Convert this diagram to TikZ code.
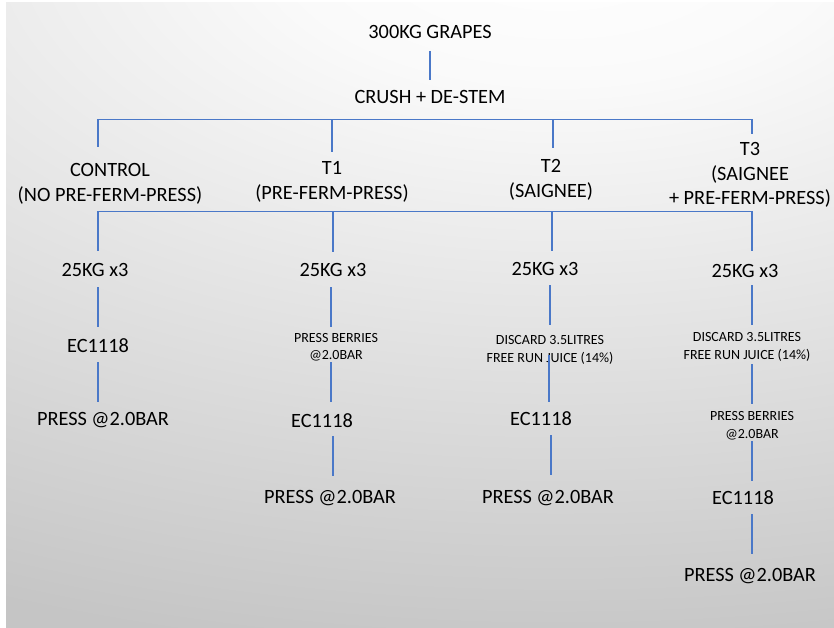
\documentclass[tikz,border=0pt]{standalone}
\usepackage{fontspec}
\setmainfont{Carlito}
\definecolor{bggray}{HTML}{C5C5C5}
\definecolor{linkblue}{HTML}{4A78C8}
\pgfdeclareradialshading{bgshade}{\pgfpoint{0bp}{0bp}}{color(0bp)=(white); color(5bp)=(white!98!black); color(25bp)=(bggray); color(50bp)=(bggray)}
\begin{document}
\begin{tikzpicture}[x=1pt,y=-1pt,
  big/.style={font=\fontsize{20.3}{24.4}\selectfont, text=black, inner sep=0pt, align=center},
  small/.style={font=\fontsize{14}{17.5}\selectfont, text=black, inner sep=0pt, align=center},
  link/.style={draw=linkblue, line width=1.15pt}]
\useasboundingbox (0,0) rectangle (834,628);
\begin{scope}
  \clip (6,3) rectangle (834,628);
  \fill[bggray] (6,3) rectangle (834,628);
  \shade[shading=bgshade] (560,-60) ellipse [x radius=1400pt, y radius=720pt];
\end{scope}

% text nodes
\node[big] (grapes) at (430,32) {300KG GRAPES};
\node[big] (crush) at (430,97) {CRUSH + DE-STEM};
\node[big] (ctrl) at (110,184) {CONTROL\\(NO PRE-FERM-PRESS)};
\node[big] (t1) at (332,182) {T1\\(PRE-FERM-PRESS)};
\node[big] (t2) at (551,180) {T2\\(SAIGNEE)};
\node[big] (t3) at (750,175) {T3\\(SAIGNEE\\+ PRE-FERM-PRESS)};

\node[big] (k1) at (95,270) {25KG x3};
\node[big] (e1) at (98,346) {EC1118};
\node[big] (p1) at (103,420) {PRESS @2.0BAR};

\node[big] (k2) at (333,270) {25KG x3};
\node[small] (pb2) at (336,347) {PRESS BERRIES\\@2.0BAR};
\node[big] (e2) at (322,421) {EC1118};
\node[big] (p2) at (330,498) {PRESS @2.0BAR};

\node[big] (k3) at (545,269) {25KG x3};
\node[small] (d3) at (550,350) {DISCARD 3.5LITRES\\FREE RUN JUICE (14\%)};
\node[big] (e3) at (541,419) {EC1118};
\node[big] (p3) at (548,498) {PRESS @2.0BAR};

\node[big] (k4) at (745,271) {25KG x3};
\node[small] (d4) at (747,347) {DISCARD 3.5LITRES\\FREE RUN JUICE (14\%)};
\node[small] (pb4) at (752,425.5) {PRESS BERRIES\\@2.0BAR};
\node[big] (e4) at (743,498) {EC1118};
\node[big] (p4) at (750,576) {PRESS @2.0BAR};

% connector end points
\coordinate (g1) at (430,51);  \coordinate (g2) at (430,80);
\coordinate (ba1) at (98,119.5);  \coordinate (ba2) at (332,119.5);
\coordinate (ba3) at (553,119.5); \coordinate (ba4) at (752,119.5);
\coordinate (ta1) at (98,147);  \coordinate (ta2) at (332,152);
\coordinate (ta3) at (553,148); \coordinate (ta4) at (752,134);
\coordinate (bb1) at (98,211.5);  \coordinate (bb2) at (333,211.5);
\coordinate (bb3) at (552,211.5); \coordinate (bb4) at (752,211.5);
\coordinate (tb1) at (98,251);  \coordinate (tb2) at (333,252);
\coordinate (tb3) at (552,251); \coordinate (tb4) at (752,251);

\coordinate (c1a) at (98,287);  \coordinate (c1b) at (98,327);
\coordinate (c1c) at (98,362);  \coordinate (c1d) at (98,402);

\coordinate (c2a) at (331,287); \coordinate (c2b) at (331,327);
\coordinate (c2c) at (331,362); \coordinate (c2d) at (331,402);
\coordinate (c2e) at (333,436); \coordinate (c2f) at (333,476);

\coordinate (c3a) at (550,285); \coordinate (c3b) at (550,325);
\coordinate (c3c) at (549,355); \coordinate (c3d) at (549,402);
\coordinate (c3e) at (551,435); \coordinate (c3f) at (551,475);

\coordinate (c4a) at (752,285); \coordinate (c4b) at (752,325);
\coordinate (c4c) at (752,364); \coordinate (c4d) at (752,404);
\coordinate (c4e) at (752,441); \coordinate (c4f) at (752,481);
\coordinate (c4g) at (752,514); \coordinate (c4h) at (752,554);

% connectors
\draw[link] (g1) -- (g2);
\draw[link] (ba1) -- (ba4);
\draw[link] (ba1) -- (ta1);
\draw[link] (ba2) -- (ta2);
\draw[link] (ba3) -- (ta3);
\draw[link] (ba4) -- (ta4);
\draw[link] (bb1) -- (bb4);
\draw[link] (bb1) -- (tb1);
\draw[link] (bb2) -- (tb2);
\draw[link] (bb3) -- (tb3);
\draw[link] (bb4) -- (tb4);

\draw[link] (c1a) -- (c1b);
\draw[link] (c1c) -- (c1d);
\draw[link] (c2a) -- (c2b);
\draw[link] (c2c) -- (c2d);
\draw[link] (c2e) -- (c2f);
\draw[link] (c3a) -- (c3b);
\draw[link] (c3c) -- (c3d);
\draw[link] (c3e) -- (c3f);
\draw[link] (c4a) -- (c4b);
\draw[link] (c4c) -- (c4d);
\draw[link] (c4e) -- (c4f);
\draw[link] (c4g) -- (c4h);
\end{tikzpicture}
\end{document}
